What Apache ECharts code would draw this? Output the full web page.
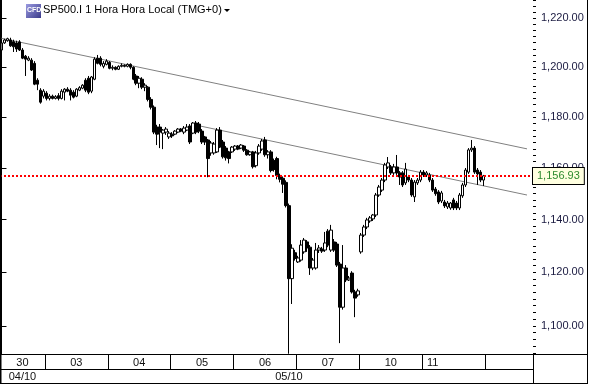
<!DOCTYPE html>
<html><head><meta charset="utf-8">
<script src="https://cdn.jsdelivr.net/npm/echarts@6/dist/echarts.min.js"></script>
<style>html,body{margin:0;padding:0;background:#fff}#c{width:589px;height:384px}</style>
</head><body><div id="c"></div>
<script>
// ---- data ----
const titleText = 'SP500.I 1 Hora Hora Local (TMG+0)';
const dayLabels = ['30','03','04','05','06','07','10','11'];
const monthLabels = ['04/10','05/10'];
const dayMonth = [0,1,1,1,1,1,1,1];
const futureSlots = 16;
const yTickLabels = [1100,1120,1140,1160,1180,1200,1220];
const yMinorStep = 2.5;
const lastPrice = 1156.93;
// [open, close, low, high]
const d30 = [
[1207.0,1209.9,1205.0,1210.5],[1209.9,1211.1,1209.5,1211.6],[1210.8,1211.6,1210.4,1212.0],
[1211.1,1208.7,1208.3,1212.0],[1210.4,1208.3,1206.2,1211.2],[1209.9,1207.4,1206.2,1210.8],
[1210.3,1207.0,1206.6,1211.0],[1207.0,1203.7,1203.3,1207.8],[1204.5,1203.3,1196.5,1205.0],
[1202.9,1203.7,1202.5,1204.5],[1202.9,1198.9,1198.5,1203.7],[1201.6,1193.2,1192.8,1202.5],
[1194.8,1193.2,1190.8,1195.6],[1190.8,1186.0,1185.4,1191.6],[1188.4,1190.4,1187.5,1191.2]
];
const d03 = [
[1189.6,1187.5,1186.7,1190.4],[1187.5,1188.4,1186.7,1189.2],[1188.4,1187.5,1187.1,1189.0],
[1187.5,1188.2,1187.1,1188.8],[1188.6,1187.5,1186.7,1189.6],[1187.5,1190.4,1187.1,1191.2],
[1190.0,1191.2,1186.7,1191.6],[1191.2,1190.4,1190.0,1192.0],[1190.8,1188.8,1186.7,1191.6],
[1190.0,1188.0,1187.5,1190.8],[1188.4,1191.2,1188.0,1191.6],[1190.8,1191.8,1190.4,1192.4],
[1191.6,1192.8,1191.2,1193.2],[1194.8,1190.8,1190.0,1195.6],[1195.6,1190.0,1189.2,1196.5],
[1190.4,1196.1,1189.6,1196.5],[1195.2,1203.3,1194.8,1204.1],[1203.7,1201.6,1201.2,1205.0],
[1203.7,1201.2,1200.4,1204.5],[1200.4,1201.6,1199.6,1202.5],[1201.2,1202.5,1200.8,1203.3]
];
const d04 = [
[1202.0,1199.6,1199.2,1202.5],[1199.6,1200.0,1198.8,1200.8],[1200.0,1199.2,1198.8,1200.4],
[1199.2,1200.4,1198.9,1200.8],[1200.4,1200.8,1200.0,1201.6],[1200.8,1200.4,1200.0,1201.2],
[1200.4,1201.2,1200.0,1201.6],[1201.2,1200.0,1199.2,1201.6],[1200.0,1195.2,1194.8,1200.4],
[1196.5,1193.6,1192.8,1197.3],[1193.6,1195.6,1191.6,1196.5],[1195.2,1192.0,1191.2,1196.0],
[1192.0,1192.8,1190.4,1193.6],[1192.0,1187.1,1186.3,1192.4],[1187.1,1184.0,1183.1,1188.0],
[1184.0,1174.1,1173.3,1184.7],[1176.1,1173.3,1169.0,1177.0],[1176.1,1174.1,1167.8,1177.3],
[1173.7,1174.9,1167.4,1175.3],[1174.1,1175.3,1173.0,1176.1],[1172.2,1173.7,1171.4,1174.5]
];
const d05 = [
[1173.3,1172.6,1171.8,1174.1],[1173.3,1174.5,1172.9,1174.9],[1174.1,1175.3,1173.7,1175.7],
[1175.3,1174.5,1174.1,1175.7],[1174.1,1175.7,1173.3,1176.5],[1174.9,1176.1,1174.5,1177.3],
[1176.5,1170.2,1169.4,1177.3],[1173.7,1177.7,1173.3,1178.1],[1177.7,1174.1,1173.3,1178.5],
[1177.3,1174.5,1173.7,1178.1],[1174.5,1170.2,1169.4,1175.3],[1172.2,1170.2,1169.0,1172.6],
[1171.0,1163.7,1156.4,1171.4],[1165.9,1169.8,1164.8,1170.6],[1165.9,1169.4,1165.2,1170.2],
[1166.3,1174.9,1165.9,1175.7],[1174.9,1168.2,1167.8,1176.1],[1170.2,1164.4,1163.7,1171.0],
[1167.8,1164.0,1162.9,1168.6],[1166.3,1163.7,1161.8,1166.7],[1166.3,1168.2,1165.9,1168.6]
];
const d06 = [
[1167.4,1168.6,1166.7,1169.0],[1168.6,1167.4,1167.0,1169.0],[1167.8,1169.0,1167.4,1169.4],
[1168.6,1167.0,1166.3,1169.0],[1167.0,1165.2,1164.8,1167.4],[1165.2,1166.3,1164.8,1166.7],
[1166.3,1160.5,1159.8,1166.7],[1160.9,1165.9,1160.2,1166.7],[1165.9,1168.6,1165.2,1169.4],
[1167.4,1170.6,1166.7,1171.4],[1171.0,1165.2,1164.4,1172.2],[1165.2,1166.3,1163.7,1167.0],
[1166.3,1159.0,1158.3,1167.0],[1162.9,1159.4,1158.6,1163.7],[1163.7,1157.1,1155.6,1164.4],
[1157.1,1155.6,1154.4,1157.8],[1156.0,1153.7,1150.3,1156.7],[1154.4,1145.4,1144.7,1155.2],
[1145.4,1117.6,1089.7,1146.2],[1117.6,1129.1,1108.1,1130.6],[1127.4,1125.2,1124.4,1128.5]
];
const d07 = [
[1123.9,1125.4,1123.5,1126.2],[1124.6,1130.3,1124.0,1132.2],[1127.7,1132.2,1127.0,1133.0],
[1131.5,1129.2,1127.7,1132.2],[1129.5,1121.6,1119.0,1130.3],[1121.6,1124.6,1120.8,1125.4],
[1121.6,1128.4,1121.0,1131.1],[1128.4,1129.2,1127.3,1130.3],[1128.8,1128.0,1127.3,1129.6],
[1128.4,1131.1,1127.7,1135.3],[1135.6,1130.3,1129.5,1136.4],[1128.4,1136.0,1127.7,1138.0],
[1131.5,1128.4,1127.7,1132.6],[1130.7,1122.7,1122.0,1131.5],[1123.1,1106.9,1093.6,1123.9],
[1106.9,1121.6,1106.0,1130.3],[1121.6,1117.1,1116.3,1122.7],[1117.1,1117.8,1116.7,1118.6],
[1119.7,1112.6,1112.0,1120.4],[1112.6,1110.3,1103.2,1113.4],[1111.5,1113.0,1110.8,1113.8]
];
const d10 = [
[1127.7,1134.1,1127.0,1134.9],[1134.1,1137.2,1133.4,1138.0],[1137.2,1139.9,1136.4,1140.7],
[1139.5,1140.7,1138.8,1141.4],[1140.3,1141.8,1139.5,1142.2],[1141.8,1149.5,1141.0,1150.3],
[1149.5,1152.6,1148.8,1153.4],[1151.4,1155.3,1150.7,1156.1],[1155.3,1161.2,1154.5,1162.0],
[1160.4,1162.0,1159.6,1164.3],[1160.4,1158.1,1157.3,1161.2],[1158.1,1160.4,1157.3,1161.6],
[1160.4,1158.1,1157.3,1165.1],[1158.1,1156.5,1153.4,1158.8],[1158.1,1153.4,1152.6,1158.8],
[1154.2,1159.6,1153.4,1162.0],[1156.5,1155.3,1154.5,1157.3],[1155.3,1149.5,1148.8,1156.1],
[1148.8,1154.5,1146.8,1155.3],[1154.2,1155.3,1153.4,1156.1],[1155.3,1158.4,1154.5,1159.2]
];
const d11 = [
[1158.4,1157.3,1156.5,1159.2],[1157.3,1158.1,1156.5,1158.8],[1157.3,1155.3,1154.5,1158.1],
[1155.3,1151.4,1150.7,1156.1],[1151.8,1150.0,1149.2,1152.6],[1150.7,1146.8,1146.0,1151.4],
[1147.2,1150.3,1146.4,1151.1],[1146.8,1145.3,1144.5,1147.6],[1144.9,1146.4,1144.1,1147.2],
[1144.5,1146.4,1143.8,1146.8],[1147.6,1144.5,1143.7,1148.4],[1146.4,1144.5,1143.7,1147.2],
[1144.5,1149.5,1143.7,1150.3],[1149.2,1153.4,1148.4,1154.2],[1153.4,1159.2,1152.6,1160.0],
[1158.4,1167.1,1157.7,1167.8],[1167.1,1167.8,1166.3,1171.0],[1167.8,1158.4,1157.7,1168.6],
[1159.2,1157.7,1153.4,1160.0],[1158.4,1155.3,1154.5,1159.2],[1155.3,1156.93,1153.0,1157.3]
];
// trend lines: [bar index, price]
const trendUpper = [[-0.5,1211.9],[175.5,1167.5]];
const trendLower = [[64.0,1177.1],[175.5,1149.5]];
const yRange = [1089.6, 1227.5];

// ---- build ----
const L = Math.log;
const allDays = [d30,d03,d04,d05,d06,d07,d10,d11];
const categories = [], candles = [], dayStart = [];
allDays.forEach((arr,d)=>{
  dayStart.push(categories.length);
  arr.forEach((c,h)=>{ categories.push(dayLabels[d]+'-'+h); candles.push(c.map(L)); });
});
const endOfData = categories.length;
for (let k=0;k<futureSlots;k++) categories.push('+'+k);
const total = categories.length;

const dayTickSet = new Set(dayStart.concat([endOfData]));
const dayLabelAt = {};
allDays.forEach((arr,d)=>{
  const idx = d === allDays.length-1 ? dayStart[d]+3 : dayStart[d]+Math.floor(arr.length/2);
  dayLabelAt[idx] = d;
});
const monthStart = [];
dayMonth.forEach((m,d)=>{ if (monthStart[m]===undefined) monthStart[m]=dayStart[d]; });
const monthLabelAt = {};
monthStart.forEach((s,m)=>{
  const e = m+1<monthStart.length ? monthStart[m+1] : total;
  monthLabelAt[s+Math.floor((e-s)/2)] = m;
});
const monthTickSet = new Set(monthStart.filter(s=>s>0));

const fmt = v => Number(Math.round(v*100)/100).toLocaleString('en-US',{minimumFractionDigits:2,maximumFractionDigits:2});
const minor = [];
for (let v=Math.ceil(yRange[0]/yMinorStep)*yMinorStep; v<=yRange[1]; v+=yMinorStep) minor.push(L(v));
const majors = yTickLabels.map(L);

const FONT = 'Liberation Sans';
const chart = echarts.init(document.getElementById('c'));
chart.setOption({
  animation:false,
  textStyle:{fontFamily:FONT},
  grid:{left:0,right:56,top:0,bottom:30,containLabel:false},
  xAxis:[
    {type:'category',data:categories,boundaryGap:true,position:'bottom',
     axisLine:{show:true,lineStyle:{color:'#000',width:1}},
     axisTick:{show:true,length:15,interval:(i)=>dayTickSet.has(i),lineStyle:{color:'#000'}},
     axisLabel:{show:true,interval:(i)=>dayLabelAt[i]!==undefined,margin:3,fontSize:11,
       hideOverlap:false,
       color:(v,i)=>{const d=dayLabelAt[i];return d>=6?'#5a1a5a':'#111';},
       formatter:(v,i)=>{const d=dayLabelAt[i];return d===undefined?'':dayLabels[d];}},
     splitLine:{show:false}},
    {type:'category',data:categories,boundaryGap:true,position:'bottom',offset:15,
     axisLine:{show:true,lineStyle:{color:'#000',width:1}},
     axisTick:{show:true,length:14,interval:(i)=>monthTickSet.has(i),lineStyle:{color:'#000'}},
     axisLabel:{show:true,interval:(i)=>monthLabelAt[i]!==undefined,margin:2,fontSize:11,color:'#111',
       hideOverlap:false,
       formatter:(v,i)=>{const m=monthLabelAt[i];return m===undefined?'':monthLabels[m];}},
     splitLine:{show:false}},
    {type:'value',min:-0.5,max:total-0.5,show:false}
  ],
  yAxis:[
    {type:'value',position:'right',min:L(yRange[0]),max:L(yRange[1]),scale:true,
     axisLine:{show:true,lineStyle:{color:'#000'}},
     axisTick:{show:true,length:5,customValues:majors,lineStyle:{color:'#000'}},
     axisLabel:{show:true,customValues:majors,margin:8,fontSize:11,color:'#1a1a40',formatter:v=>fmt(Math.exp(v))},
     splitLine:{show:false}},
    {type:'value',position:'right',min:L(yRange[0]),max:L(yRange[1]),scale:true,
     axisLine:{show:false},
     axisTick:{show:true,length:3,customValues:minor,lineStyle:{color:'#000'}},
     axisLabel:{show:false,customValues:minor},
     splitLine:{show:false}}
  ],
  series:[
    {type:'line',xAxisIndex:2,yAxisIndex:0,data:trendUpper.map(p=>[p[0],L(p[1])]),symbol:'none',
     lineStyle:{color:'#808080',width:1},silent:true,z:1},
    {type:'line',xAxisIndex:2,yAxisIndex:0,data:trendLower.map(p=>[p[0],L(p[1])]),symbol:'none',
     lineStyle:{color:'#808080',width:1},silent:true,z:1},
    {type:'candlestick',xAxisIndex:0,yAxisIndex:0,data:candles,barWidth:3,z:3,
     itemStyle:{color:'#ffffff',color0:'#000000',borderColor:'#000000',borderColor0:'#000000',borderWidth:1},
     markLine:{symbol:'none',silent:true,z:5,precision:10,
       lineStyle:{color:'#ff0000',width:2,type:[2,2]},
       label:{show:true,position:'end',distance:0,formatter:()=>fmt(lastPrice),
         fontSize:11,fontFamily:FONT,color:'#2e8b2e',backgroundColor:'#ffffe0',
         borderColor:'#000',borderWidth:1,padding:[3,4,2,4]},
       data:[{yAxis:L(lastPrice)}]}}
  ],
  graphic:[
    {type:'rect',left:26,top:4,shape:{width:15,height:14},
     style:{fill:new echarts.graphic.LinearGradient(0,0,1,1,[{offset:0,color:'#9a9ae0'},{offset:1,color:'#3a3a8a'}])}},
    {type:'text',left:27,top:7,style:{text:'CFD',fill:'#fff',font:'bold 7px "Liberation Sans"'}},
    {type:'text',left:43,top:4,style:{text:titleText,fill:'#000',font:'11px "Liberation Sans"'}},
    {type:'polygon',shape:{points:[[224,9],[230,9],[227,12]]},style:{fill:'#000'}},
    {type:'rect',shape:{x:0,y:0,width:1.5,height:384},style:{fill:'#000'},z:10},
    {type:'line',shape:{x1:587.5,y1:0,x2:587.5,y2:384},style:{stroke:'#000',lineWidth:1},z:10},
    {type:'line',shape:{x1:0,y1:383.5,x2:588,y2:383.5},style:{stroke:'#000',lineWidth:1},z:10},
    {type:'line',shape:{x1:533,y1:354.5,x2:588,y2:354.5},style:{stroke:'#000',lineWidth:1},z:10},
    {type:'line',shape:{x1:533.5,y1:354,x2:533.5,y2:384},style:{stroke:'#000',lineWidth:1},z:10}
  ]
});
</script>
</body></html>
